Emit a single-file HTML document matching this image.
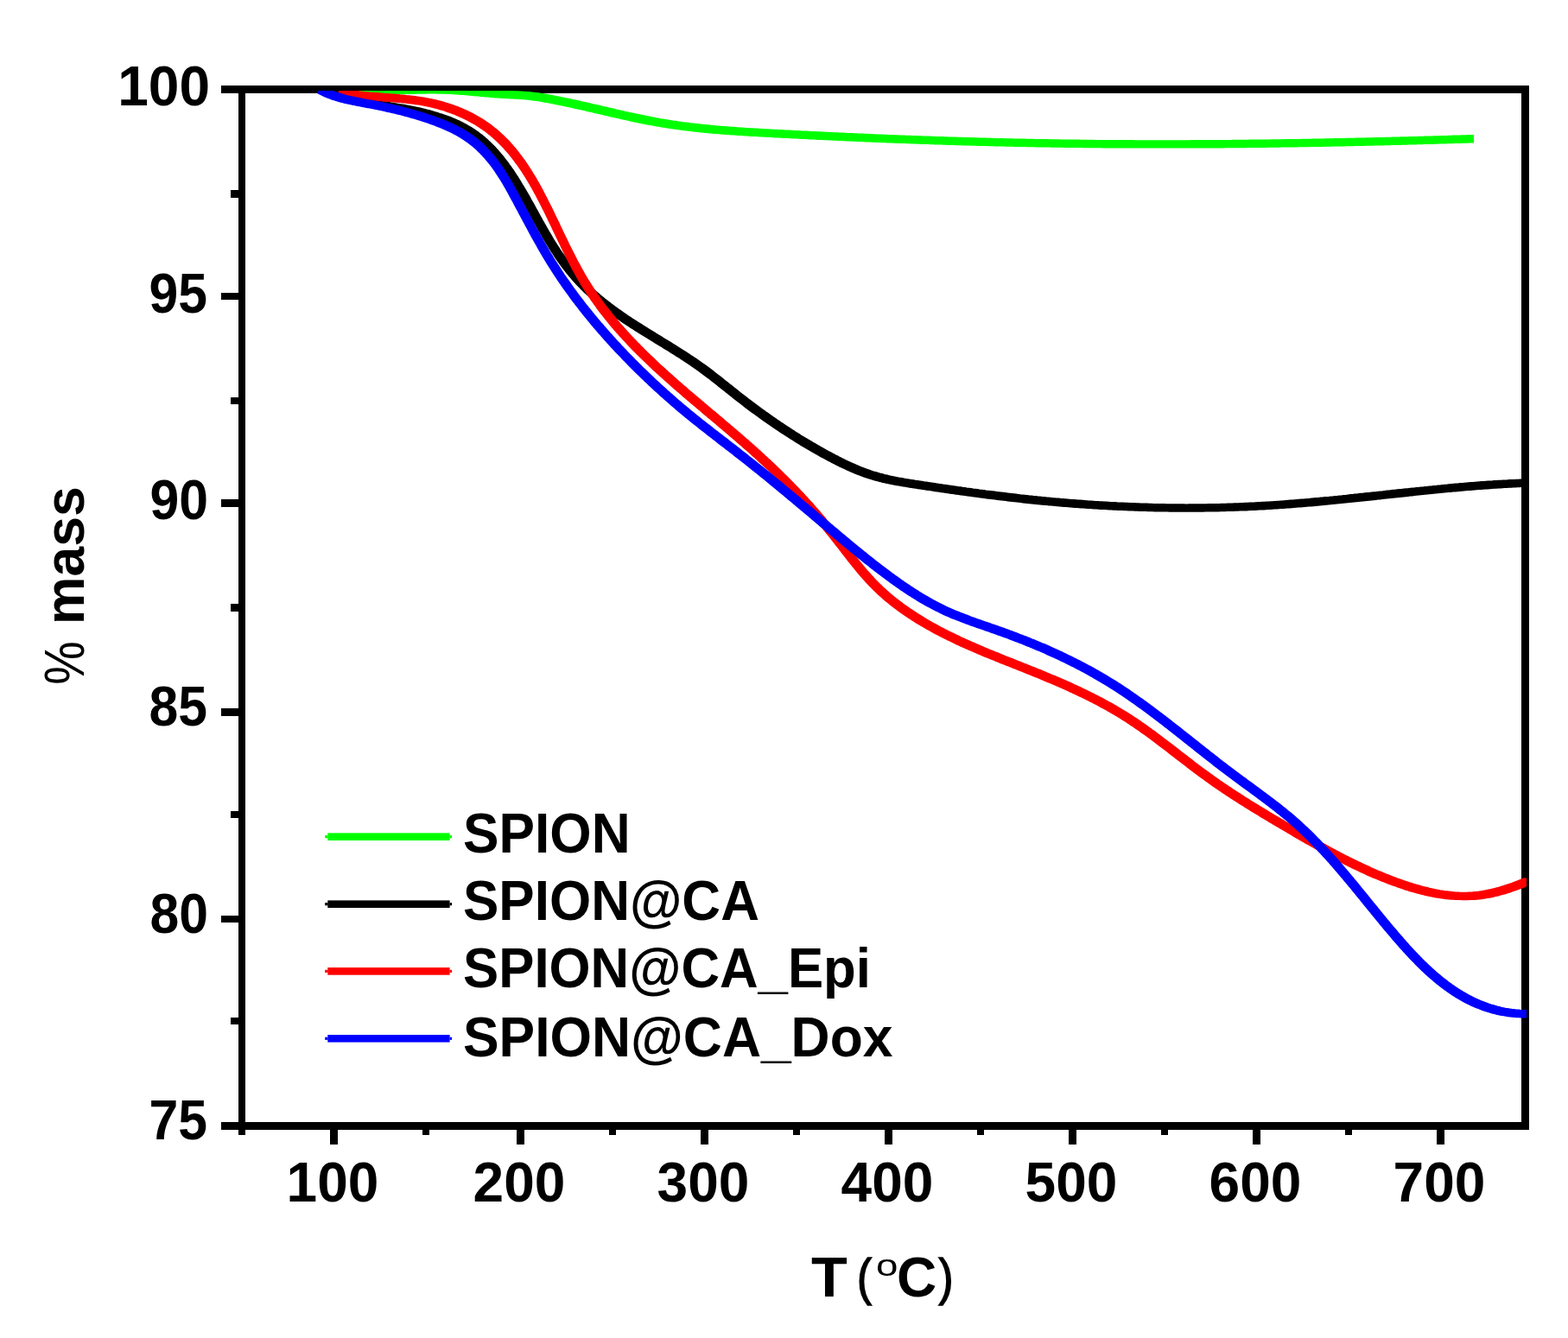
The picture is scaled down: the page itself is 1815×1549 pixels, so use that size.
<!DOCTYPE html>
<html><head><meta charset="utf-8"><title>TGA curves</title>
<style>
html,body{margin:0;padding:0;background:#fff;overflow:hidden;}
svg{display:block;}
text{font-family:"Liberation Sans",Arial,sans-serif;font-weight:bold;font-size:64px;fill:#000;}
</style></head><body>
<svg width="1815" height="1549" viewBox="0 0 1815 1549">
<rect width="1815" height="1549" fill="#fff"/>
<g fill="#000" shape-rendering="crispEdges">
<rect x="276" y="99" width="8" height="1209"/>
<rect x="1761" y="99" width="9" height="1209"/>
<rect x="276" y="99" width="1494" height="9"/>
<rect x="276" y="1299" width="1494" height="9"/>
<rect x="276" y="1300" width="8" height="13.5"/>
<rect x="382" y="1300" width="9" height="25"/>
<rect x="489" y="1300" width="8" height="13.5"/>
<rect x="598" y="1300" width="9" height="25"/>
<rect x="705" y="1300" width="8" height="13.5"/>
<rect x="811" y="1300" width="9" height="25"/>
<rect x="918" y="1300" width="8" height="13.5"/>
<rect x="1024" y="1300" width="9" height="25"/>
<rect x="1131" y="1300" width="8" height="13.5"/>
<rect x="1237" y="1300" width="9" height="25"/>
<rect x="1344" y="1300" width="8" height="13.5"/>
<rect x="1450" y="1300" width="9" height="25"/>
<rect x="1557" y="1300" width="8" height="13.5"/>
<rect x="1663" y="1300" width="9" height="25"/>
<rect x="255.5" y="99" width="28.5" height="9"/>
<rect x="267" y="220" width="17" height="9"/>
<rect x="255.5" y="339" width="28.5" height="8"/>
<rect x="267" y="460" width="17" height="8"/>
<rect x="255.5" y="578" width="28.5" height="9"/>
<rect x="267" y="699" width="17" height="9"/>
<rect x="255.5" y="820" width="28.5" height="9"/>
<rect x="267" y="939" width="17" height="8"/>
<rect x="255.5" y="1060" width="28.5" height="8"/>
<rect x="267" y="1178" width="17" height="8"/>
<rect x="255.5" y="1299" width="28.5" height="9"/>
</g>
<defs><clipPath id="pc"><rect x="284" y="105" width="1483" height="1194"/></clipPath><filter id="sq" filterUnits="userSpaceOnUse" x="270" y="90" width="1520" height="1230"><feMorphology operator="dilate" radius="1.60"/></filter></defs>
<g clip-path="url(#pc)" fill="none" stroke-width="5.4" stroke-linejoin="round" stroke-linecap="butt">
<path stroke="#000000" filter="url(#sq)" d="M375.9 104.6L378.1 105.7L380.3 106.9L382.6 107.9L384.9 108.9L387.2 109.9L389.5 110.8L391.9 111.6L394.3 112.4L396.6 113.1L399.0 113.8L401.5 114.5L403.9 115.1L406.3 115.7L408.7 116.3L411.2 116.8L413.6 117.3L416.1 117.8L418.6 118.2L421.0 118.6L423.5 119.0L425.9 119.4L428.4 119.8L430.9 120.2L433.4 120.6L435.8 120.9L438.3 121.3L440.8 121.7L443.2 122.0L445.7 122.4L448.2 122.7L450.7 123.1L453.1 123.5L455.6 123.9L458.1 124.3L460.5 124.7L463.0 125.1L465.5 125.5L467.9 126.0L470.4 126.4L472.8 126.9L475.3 127.4L477.7 127.9L480.2 128.4L482.6 128.9L485.1 129.5L487.5 130.1L489.9 130.7L492.3 131.3L494.8 131.9L497.2 132.6L499.6 133.3L502.0 134.0L504.4 134.7L506.7 135.5L509.1 136.2L511.5 137.0L513.8 137.9L516.2 138.7L518.5 139.6L520.8 140.6L523.1 141.5L525.4 142.5L527.7 143.6L530.0 144.6L532.2 145.7L534.4 146.9L536.6 148.0L538.8 149.3L541.0 150.5L543.1 151.8L545.2 153.2L547.3 154.6L549.3 156.0L551.4 157.5L553.3 159.0L555.3 160.5L557.2 162.1L559.1 163.8L561.0 165.4L562.8 167.1L564.6 168.8L566.4 170.6L568.2 172.4L569.9 174.2L571.6 176.0L573.3 177.9L574.9 179.8L576.5 181.7L578.1 183.6L579.7 185.5L581.2 187.5L582.7 189.5L584.3 191.5L585.7 193.5L587.2 195.5L588.6 197.6L590.1 199.6L591.5 201.7L592.8 203.8L594.2 205.9L595.6 208.0L596.9 210.1L598.2 212.2L599.5 214.3L600.8 216.5L602.1 218.6L603.4 220.8L604.6 222.9L605.9 225.1L607.1 227.2L608.4 229.4L609.6 231.6L610.8 233.8L612.1 236.0L613.3 238.1L614.5 240.3L615.7 242.5L616.9 244.7L618.1 246.9L619.3 249.1L620.5 251.3L621.7 253.5L622.9 255.6L624.1 257.8L625.4 260.0L626.6 262.2L627.8 264.4L629.0 266.5L630.3 268.7L631.5 270.9L632.8 273.0L634.1 275.2L635.3 277.3L636.6 279.5L637.9 281.6L639.2 283.7L640.6 285.8L641.9 288.0L643.3 290.1L644.6 292.1L646.0 294.2L647.4 296.3L648.9 298.3L650.3 300.4L651.8 302.4L653.2 304.4L654.7 306.4L656.2 308.4L657.8 310.4L659.3 312.4L660.9 314.3L662.5 316.2L664.1 318.1L665.7 320.0L667.4 321.9L669.1 323.8L670.7 325.6L672.5 327.4L674.2 329.2L676.0 331.0L677.7 332.7L679.5 334.5L681.4 336.2L683.2 337.9L685.0 339.6L686.9 341.2L688.8 342.9L690.7 344.5L692.6 346.1L694.5 347.7L696.5 349.3L698.4 350.8L700.4 352.4L702.4 353.9L704.3 355.4L706.3 356.9L708.3 358.4L710.4 359.9L712.4 361.4L714.4 362.8L716.5 364.3L718.5 365.7L720.6 367.1L722.6 368.5L724.7 369.9L726.8 371.3L728.9 372.7L731.0 374.0L733.1 375.4L735.2 376.7L737.3 378.1L739.4 379.4L741.5 380.7L743.6 382.1L745.8 383.4L747.9 384.7L750.0 386.0L752.1 387.3L754.3 388.6L756.4 390.0L758.5 391.3L760.7 392.6L762.8 393.9L764.9 395.2L767.0 396.5L769.2 397.8L771.3 399.1L773.4 400.4L775.6 401.7L777.7 403.0L779.8 404.4L781.9 405.7L784.0 407.0L786.1 408.4L788.3 409.7L790.4 411.0L792.5 412.4L794.5 413.8L796.6 415.2L798.7 416.5L800.8 417.9L802.8 419.3L804.9 420.8L807.0 422.2L809.0 423.6L811.0 425.1L813.1 426.5L815.1 428.0L817.1 429.5L819.1 431.0L821.1 432.5L823.1 434.0L825.0 435.5L827.0 437.1L829.0 438.6L831.0 440.2L832.9 441.7L834.9 443.3L836.8 444.8L838.8 446.4L840.7 447.9L842.7 449.5L844.7 451.0L846.6 452.6L848.6 454.2L850.5 455.7L852.5 457.3L854.4 458.8L856.4 460.3L858.4 461.9L860.4 463.4L862.3 464.9L864.3 466.5L866.3 468.0L868.3 469.5L870.3 471.0L872.3 472.5L874.3 474.0L876.3 475.4L878.3 476.9L880.4 478.4L882.4 479.8L884.4 481.3L886.5 482.8L888.5 484.2L890.6 485.6L892.6 487.1L894.7 488.5L896.7 489.9L898.8 491.3L900.8 492.7L902.9 494.1L905.0 495.5L907.1 496.9L909.2 498.2L911.3 499.6L913.4 501.0L915.5 502.3L917.6 503.7L919.7 505.0L921.8 506.3L923.9 507.7L926.0 509.0L928.2 510.3L930.3 511.6L932.5 512.9L934.6 514.1L936.8 515.4L938.9 516.7L941.1 517.9L943.2 519.2L945.4 520.4L947.6 521.7L949.8 522.9L951.9 524.1L954.1 525.3L956.3 526.5L958.5 527.7L960.7 528.9L962.9 530.0L965.1 531.2L967.4 532.3L969.6 533.5L971.8 534.6L974.1 535.7L976.3 536.8L978.6 537.9L980.8 538.9L983.1 540.0L985.4 541.0L987.7 542.0L990.0 543.0L992.3 544.0L994.6 544.9L996.9 545.8L999.3 546.7L1001.6 547.6L1004.0 548.4L1006.3 549.2L1008.7 550.0L1011.1 550.7L1013.5 551.4L1015.9 552.1L1018.3 552.7L1020.7 553.4L1023.1 554.0L1025.6 554.5L1028.0 555.1L1030.5 555.6L1032.9 556.1L1035.4 556.6L1037.8 557.1L1040.3 557.5L1042.7 557.9L1045.2 558.4L1047.7 558.8L1050.1 559.2L1052.6 559.6L1055.1 560.0L1057.5 560.4L1060.0 560.7L1062.5 561.1L1064.9 561.5L1067.4 561.9L1069.9 562.2L1072.4 562.6L1074.8 563.0L1077.3 563.3L1079.8 563.7L1082.2 564.1L1084.7 564.5L1087.2 564.8L1089.7 565.2L1092.1 565.5L1094.6 565.9L1097.1 566.3L1099.6 566.6L1102.0 567.0L1104.5 567.3L1107.0 567.7L1109.5 568.0L1111.9 568.4L1114.4 568.7L1116.9 569.1L1119.4 569.4L1121.8 569.7L1124.3 570.1L1126.8 570.4L1129.3 570.7L1131.7 571.1L1134.2 571.4L1136.7 571.7L1139.2 572.1L1141.7 572.4L1144.1 572.7L1146.6 573.0L1149.1 573.3L1151.6 573.6L1154.0 573.9L1156.5 574.2L1159.0 574.5L1161.5 574.8L1164.0 575.1L1166.5 575.4L1168.9 575.7L1171.4 576.0L1173.9 576.3L1176.4 576.6L1178.9 576.9L1181.4 577.1L1183.8 577.4L1186.3 577.7L1188.8 578.0L1191.3 578.2L1193.8 578.5L1196.3 578.7L1198.7 579.0L1201.2 579.2L1203.7 579.5L1206.2 579.7L1208.7 580.0L1211.2 580.2L1213.7 580.4L1216.2 580.7L1218.6 580.9L1221.1 581.1L1223.6 581.3L1226.1 581.6L1228.6 581.8L1231.1 582.0L1233.6 582.2L1236.1 582.4L1238.6 582.6L1241.1 582.8L1243.6 583.0L1246.0 583.2L1248.5 583.3L1251.0 583.5L1253.5 583.7L1256.0 583.9L1258.5 584.1L1261.0 584.2L1263.5 584.4L1266.0 584.6L1268.5 584.7L1271.0 584.9L1273.5 585.0L1276.0 585.2L1278.5 585.3L1281.0 585.4L1283.5 585.6L1285.9 585.7L1288.4 585.8L1290.9 586.0L1293.4 586.1L1295.9 586.2L1298.4 586.3L1300.9 586.4L1303.4 586.5L1305.9 586.6L1308.4 586.7L1310.9 586.8L1313.4 586.9L1315.9 587.0L1318.4 587.1L1320.9 587.2L1323.4 587.3L1325.9 587.3L1328.4 587.4L1330.9 587.5L1333.4 587.6L1335.9 587.6L1338.4 587.7L1340.9 587.7L1343.4 587.8L1345.9 587.8L1348.4 587.9L1350.9 587.9L1353.4 587.9L1355.9 588.0L1358.4 588.0L1360.9 588.0L1363.4 588.0L1365.9 588.0L1368.4 588.0L1370.9 588.1L1373.4 588.1L1375.9 588.1L1378.4 588.0L1380.9 588.0L1383.4 588.0L1385.9 588.0L1388.4 588.0L1390.9 588.0L1393.4 587.9L1395.9 587.9L1398.4 587.9L1400.9 587.8L1403.4 587.8L1405.9 587.7L1408.4 587.7L1410.9 587.6L1413.4 587.6L1415.9 587.5L1418.4 587.4L1420.9 587.4L1423.4 587.3L1425.9 587.2L1428.3 587.1L1430.8 587.0L1433.3 586.9L1435.8 586.9L1438.3 586.8L1440.8 586.7L1443.3 586.5L1445.8 586.4L1448.3 586.3L1450.8 586.2L1453.3 586.1L1455.8 585.9L1458.3 585.8L1460.8 585.7L1463.3 585.5L1465.8 585.4L1468.3 585.2L1470.8 585.1L1473.3 584.9L1475.8 584.8L1478.3 584.6L1480.8 584.4L1483.3 584.3L1485.7 584.1L1488.2 583.9L1490.7 583.7L1493.2 583.5L1495.7 583.3L1498.2 583.1L1500.7 582.9L1503.2 582.7L1505.7 582.5L1508.2 582.3L1510.7 582.1L1513.1 581.9L1515.6 581.7L1518.1 581.5L1520.6 581.2L1523.1 581.0L1525.6 580.8L1528.1 580.6L1530.6 580.3L1533.1 580.1L1535.5 579.8L1538.0 579.6L1540.5 579.4L1543.0 579.1L1545.5 578.9L1548.0 578.6L1550.5 578.4L1553.0 578.1L1555.4 577.9L1557.9 577.6L1560.4 577.4L1562.9 577.1L1565.4 576.8L1567.9 576.6L1570.4 576.3L1572.8 576.1L1575.3 575.8L1577.8 575.5L1580.3 575.3L1582.8 575.0L1585.3 574.7L1587.8 574.5L1590.2 574.2L1592.7 573.9L1595.2 573.7L1597.7 573.4L1600.2 573.1L1602.7 572.9L1605.1 572.6L1607.6 572.3L1610.1 572.1L1612.6 571.8L1615.1 571.5L1617.6 571.3L1620.1 571.0L1622.5 570.7L1625.0 570.5L1627.5 570.2L1630.0 569.9L1632.5 569.7L1635.0 569.4L1637.5 569.1L1639.9 568.9L1642.4 568.6L1644.9 568.4L1647.4 568.1L1649.9 567.9L1652.4 567.6L1654.9 567.4L1657.3 567.1L1659.8 566.9L1662.3 566.6L1664.8 566.4L1667.3 566.1L1669.8 565.9L1672.3 565.6L1674.8 565.4L1677.2 565.2L1679.7 564.9L1682.2 564.7L1684.7 564.5L1687.2 564.3L1689.7 564.1L1692.2 563.8L1694.7 563.6L1697.2 563.4L1699.6 563.2L1702.1 563.0L1704.6 562.8L1707.1 562.6L1709.6 562.4L1712.1 562.2L1714.6 562.0L1717.1 561.8L1719.6 561.7L1722.1 561.5L1724.6 561.3L1727.1 561.1L1729.6 561.0L1732.0 560.8L1734.5 560.7L1737.0 560.5L1739.5 560.4L1742.0 560.2L1744.5 560.1L1747.0 560.0L1749.5 559.8L1752.0 559.7L1754.5 559.6L1757.0 559.5L1759.5 559.4L1762.0 559.3L1764.5 559.2L1767.0 559.1"/>
<path stroke="#00ff00" filter="url(#sq)" d="M396.0 104.4L398.5 104.5L401.0 104.7L403.5 104.8L406.0 104.9L408.5 105.0L411.0 105.0L413.5 105.1L416.0 105.1L418.5 105.2L421.0 105.2L423.5 105.2L426.0 105.2L428.5 105.2L431.0 105.2L433.5 105.2L436.0 105.1L438.5 105.1L441.0 105.0L443.5 105.0L446.0 105.0L448.5 104.9L451.0 104.8L453.5 104.8L456.0 104.7L458.5 104.7L461.0 104.6L463.5 104.5L466.0 104.5L468.5 104.4L471.0 104.3L473.5 104.3L476.0 104.2L478.5 104.2L481.0 104.1L483.5 104.1L486.0 104.0L488.5 104.0L491.0 104.0L493.5 103.9L496.0 103.9L498.5 103.9L501.0 103.9L503.5 103.9L506.0 103.9L508.5 104.0L511.0 104.0L513.5 104.1L516.0 104.1L518.5 104.2L521.0 104.3L523.5 104.4L526.0 104.5L528.5 104.7L530.9 104.8L533.4 105.0L535.9 105.2L538.4 105.4L540.9 105.6L543.4 105.8L545.9 106.0L548.4 106.2L550.9 106.5L553.4 106.7L555.9 106.9L558.3 107.2L560.8 107.4L563.3 107.7L565.8 107.9L568.3 108.1L570.8 108.3L573.3 108.5L575.8 108.7L578.3 108.9L580.8 109.1L583.3 109.2L585.8 109.4L588.2 109.5L590.7 109.6L593.2 109.8L595.7 109.9L598.2 110.0L600.7 110.1L603.2 110.3L605.7 110.4L608.2 110.6L610.7 110.8L613.2 111.1L615.7 111.4L618.2 111.7L620.6 112.0L623.1 112.3L625.6 112.7L628.1 113.1L630.5 113.5L633.0 114.0L635.4 114.4L637.9 114.9L640.4 115.4L642.8 115.8L645.3 116.3L647.7 116.8L650.2 117.3L652.6 117.8L655.1 118.3L657.5 118.8L659.9 119.4L662.4 119.9L664.8 120.4L667.3 121.0L669.7 121.5L672.1 122.1L674.6 122.6L677.0 123.2L679.5 123.7L681.9 124.3L684.3 124.9L686.8 125.4L689.2 126.0L691.6 126.5L694.1 127.1L696.5 127.7L698.9 128.2L701.4 128.8L703.8 129.4L706.2 129.9L708.7 130.5L711.1 131.1L713.6 131.6L716.0 132.2L718.4 132.7L720.9 133.3L723.3 133.8L725.8 134.4L728.2 134.9L730.6 135.4L733.1 136.0L735.5 136.5L738.0 137.0L740.4 137.5L742.9 138.0L745.3 138.5L747.8 139.0L750.2 139.5L752.7 140.0L755.1 140.4L757.6 140.9L760.1 141.3L762.5 141.8L765.0 142.2L767.4 142.6L769.9 143.0L772.4 143.4L774.8 143.8L777.3 144.2L779.8 144.5L782.3 144.9L784.7 145.2L787.2 145.6L789.7 145.9L792.2 146.2L794.7 146.5L797.1 146.9L799.6 147.1L802.1 147.4L804.6 147.7L807.1 148.0L809.6 148.3L812.0 148.5L814.5 148.8L817.0 149.0L819.5 149.3L822.0 149.5L824.5 149.7L827.0 150.0L829.5 150.2L832.0 150.4L834.4 150.6L836.9 150.8L839.4 151.0L841.9 151.2L844.4 151.4L846.9 151.5L849.4 151.7L851.9 151.9L854.4 152.1L856.9 152.2L859.4 152.4L861.9 152.6L864.4 152.7L866.9 152.9L869.4 153.0L871.9 153.2L874.3 153.3L876.8 153.4L879.3 153.6L881.8 153.7L884.3 153.9L886.8 154.0L889.3 154.1L891.8 154.3L894.3 154.4L896.8 154.5L899.3 154.7L901.8 154.8L904.3 154.9L906.8 155.1L909.3 155.2L911.8 155.3L914.3 155.4L916.8 155.6L919.3 155.7L921.8 155.8L924.3 155.9L926.8 156.1L929.3 156.2L931.8 156.3L934.3 156.4L936.8 156.6L939.3 156.7L941.8 156.8L944.3 156.9L946.7 157.0L949.2 157.2L951.7 157.3L954.2 157.4L956.7 157.5L959.2 157.6L961.7 157.8L964.2 157.9L966.7 158.0L969.2 158.1L971.7 158.2L974.2 158.3L976.7 158.4L979.2 158.6L981.7 158.7L984.2 158.8L986.7 158.9L989.2 159.0L991.7 159.1L994.2 159.2L996.7 159.3L999.2 159.4L1001.7 159.5L1004.2 159.7L1006.7 159.8L1009.2 159.9L1011.7 160.0L1014.2 160.1L1016.7 160.2L1019.2 160.3L1021.7 160.4L1024.2 160.5L1026.7 160.6L1029.2 160.7L1031.7 160.8L1034.2 160.9L1036.7 161.0L1039.2 161.1L1041.7 161.2L1044.2 161.3L1046.7 161.4L1049.1 161.4L1051.6 161.5L1054.1 161.6L1056.6 161.7L1059.1 161.8L1061.6 161.9L1064.1 162.0L1066.6 162.1L1069.1 162.2L1071.6 162.3L1074.1 162.3L1076.6 162.4L1079.1 162.5L1081.6 162.6L1084.1 162.7L1086.6 162.8L1089.1 162.8L1091.6 162.9L1094.1 163.0L1096.6 163.1L1099.1 163.2L1101.6 163.2L1104.1 163.3L1106.6 163.4L1109.1 163.5L1111.6 163.5L1114.1 163.6L1116.6 163.7L1119.1 163.8L1121.6 163.8L1124.1 163.9L1126.6 164.0L1129.1 164.0L1131.6 164.1L1134.1 164.2L1136.6 164.2L1139.1 164.3L1141.6 164.4L1144.1 164.4L1146.6 164.5L1149.1 164.6L1151.6 164.6L1154.1 164.7L1156.6 164.7L1159.1 164.8L1161.6 164.9L1164.1 164.9L1166.6 165.0L1169.1 165.0L1171.6 165.1L1174.1 165.1L1176.6 165.2L1179.1 165.2L1181.6 165.3L1184.1 165.3L1186.6 165.4L1189.1 165.4L1191.6 165.5L1194.1 165.5L1196.6 165.6L1199.1 165.6L1201.6 165.7L1204.1 165.7L1206.6 165.8L1209.1 165.8L1211.6 165.8L1214.1 165.9L1216.6 165.9L1219.1 166.0L1221.6 166.0L1224.1 166.0L1226.6 166.1L1229.1 166.1L1231.6 166.1L1234.1 166.2L1236.6 166.2L1239.1 166.2L1241.6 166.3L1244.1 166.3L1246.6 166.3L1249.1 166.4L1251.6 166.4L1254.1 166.4L1256.6 166.5L1259.1 166.5L1261.6 166.5L1264.1 166.5L1266.6 166.6L1269.1 166.6L1271.6 166.6L1274.1 166.6L1276.6 166.6L1279.1 166.7L1281.6 166.7L1284.1 166.7L1286.6 166.7L1289.1 166.7L1291.6 166.7L1294.1 166.8L1296.6 166.8L1299.1 166.8L1301.6 166.8L1304.1 166.8L1306.6 166.8L1309.1 166.8L1311.6 166.9L1314.1 166.9L1316.6 166.9L1319.1 166.9L1321.6 166.9L1324.1 166.9L1326.6 166.9L1329.1 166.9L1331.6 166.9L1334.1 166.9L1336.6 166.9L1339.1 166.9L1341.6 166.9L1344.1 166.9L1346.6 166.9L1349.1 166.9L1351.6 166.9L1354.1 166.9L1356.6 166.9L1359.1 166.9L1361.6 166.9L1364.1 166.9L1366.6 166.9L1369.1 166.9L1371.6 166.9L1374.1 166.9L1376.6 166.9L1379.1 166.9L1381.6 166.8L1384.1 166.8L1386.6 166.8L1389.1 166.8L1391.6 166.8L1394.1 166.8L1396.6 166.8L1399.1 166.8L1401.6 166.8L1404.1 166.7L1406.6 166.7L1409.1 166.7L1411.6 166.7L1414.1 166.7L1416.6 166.6L1419.1 166.6L1421.6 166.6L1424.1 166.6L1426.6 166.6L1429.1 166.5L1431.6 166.5L1434.1 166.5L1436.6 166.5L1439.1 166.5L1441.6 166.4L1444.1 166.4L1446.6 166.4L1449.1 166.3L1451.6 166.3L1454.1 166.3L1456.6 166.3L1459.1 166.2L1461.6 166.2L1464.1 166.2L1466.6 166.1L1469.1 166.1L1471.6 166.1L1474.1 166.0L1476.6 166.0L1479.1 166.0L1481.6 165.9L1484.1 165.9L1486.6 165.9L1489.1 165.8L1491.6 165.8L1494.1 165.8L1496.6 165.7L1499.1 165.7L1501.6 165.6L1504.1 165.6L1506.6 165.6L1509.1 165.5L1511.6 165.5L1514.1 165.4L1516.6 165.4L1519.1 165.4L1521.6 165.3L1524.1 165.3L1526.5 165.2L1529.0 165.2L1531.5 165.1L1534.0 165.1L1536.5 165.0L1539.0 165.0L1541.5 164.9L1544.0 164.9L1546.5 164.8L1549.0 164.8L1551.5 164.7L1554.0 164.7L1556.5 164.6L1559.0 164.6L1561.5 164.5L1564.0 164.5L1566.5 164.4L1569.0 164.4L1571.5 164.3L1574.0 164.3L1576.5 164.2L1579.0 164.1L1581.5 164.1L1584.0 164.0L1586.5 164.0L1589.0 163.9L1591.5 163.9L1594.0 163.8L1596.5 163.7L1599.0 163.7L1601.5 163.6L1604.0 163.6L1606.5 163.5L1609.0 163.4L1611.5 163.4L1614.0 163.3L1616.5 163.2L1619.0 163.2L1621.5 163.1L1624.0 163.0L1626.5 163.0L1629.0 162.9L1631.5 162.9L1634.0 162.8L1636.5 162.7L1639.0 162.6L1641.5 162.6L1644.0 162.5L1646.5 162.4L1649.0 162.4L1651.5 162.3L1654.0 162.2L1656.5 162.2L1659.0 162.1L1661.5 162.0L1664.0 161.9L1666.5 161.9L1669.0 161.8L1671.5 161.7L1674.0 161.6L1676.5 161.6L1679.0 161.5L1681.5 161.4L1684.0 161.3L1686.5 161.3L1689.0 161.2L1691.5 161.1L1694.0 161.0L1696.5 161.0L1699.0 160.9L1701.5 160.8L1704.0 160.7"/>
<path stroke="#ff0000" filter="url(#sq)" d="M394.0 106.6L396.4 107.1L398.9 107.6L401.3 108.0L403.8 108.4L406.3 108.8L408.7 109.2L411.2 109.5L413.7 109.9L416.2 110.2L418.6 110.4L421.1 110.7L423.6 110.9L426.1 111.2L428.6 111.4L431.1 111.6L433.6 111.8L436.1 112.0L438.6 112.2L441.0 112.4L443.5 112.6L446.0 112.8L448.5 113.0L451.0 113.2L453.5 113.3L456.0 113.5L458.5 113.7L461.0 114.0L463.5 114.2L465.9 114.4L468.4 114.7L470.9 114.9L473.4 115.2L475.9 115.5L478.4 115.8L480.8 116.1L483.3 116.5L485.8 116.8L488.3 117.2L490.7 117.7L493.2 118.1L495.6 118.6L498.1 119.1L500.5 119.6L502.9 120.2L505.4 120.8L507.8 121.4L510.2 122.1L512.6 122.8L515.0 123.5L517.4 124.3L519.7 125.1L522.1 125.9L524.4 126.7L526.8 127.6L529.1 128.6L531.4 129.5L533.7 130.5L536.0 131.5L538.3 132.5L540.5 133.6L542.8 134.7L545.0 135.9L547.2 137.1L549.4 138.3L551.5 139.5L553.7 140.8L555.8 142.1L557.9 143.5L560.0 144.9L562.0 146.3L564.1 147.7L566.1 149.2L568.0 150.8L570.0 152.3L571.9 153.9L573.8 155.5L575.7 157.2L577.5 158.9L579.4 160.6L581.1 162.3L582.9 164.1L584.7 165.9L586.4 167.7L588.0 169.6L589.7 171.4L591.3 173.3L593.0 175.2L594.5 177.2L596.1 179.1L597.6 181.1L599.2 183.1L600.6 185.1L602.1 187.1L603.6 189.1L605.0 191.2L606.4 193.2L607.8 195.3L609.1 197.4L610.5 199.5L611.8 201.6L613.1 203.8L614.4 205.9L615.7 208.0L617.0 210.2L618.2 212.4L619.5 214.5L620.7 216.7L621.9 218.9L623.1 221.1L624.3 223.3L625.4 225.5L626.6 227.7L627.7 229.9L628.9 232.2L630.0 234.4L631.1 236.6L632.3 238.9L633.4 241.1L634.5 243.3L635.6 245.6L636.7 247.8L637.8 250.1L638.8 252.3L639.9 254.6L641.0 256.8L642.1 259.1L643.2 261.3L644.2 263.6L645.3 265.9L646.4 268.1L647.4 270.4L648.5 272.6L649.6 274.9L650.7 277.1L651.8 279.4L652.9 281.6L653.9 283.9L655.0 286.1L656.1 288.4L657.2 290.6L658.4 292.8L659.5 295.1L660.6 297.3L661.7 299.5L662.9 301.8L664.0 304.0L665.2 306.2L666.4 308.4L667.6 310.6L668.8 312.8L670.0 315.0L671.2 317.1L672.4 319.3L673.7 321.5L674.9 323.6L676.2 325.8L677.5 327.9L678.8 330.0L680.2 332.2L681.5 334.3L682.9 336.4L684.2 338.5L685.6 340.5L687.0 342.6L688.4 344.7L689.9 346.7L691.3 348.7L692.8 350.8L694.2 352.8L695.7 354.8L697.2 356.8L698.7 358.8L700.3 360.8L701.8 362.7L703.4 364.7L704.9 366.7L706.5 368.6L708.1 370.5L709.7 372.5L711.3 374.4L712.9 376.3L714.5 378.2L716.2 380.1L717.8 381.9L719.5 383.8L721.1 385.7L722.8 387.5L724.5 389.4L726.2 391.2L727.9 393.0L729.6 394.8L731.3 396.7L733.1 398.5L734.8 400.3L736.5 402.0L738.3 403.8L740.1 405.6L741.8 407.4L743.6 409.1L745.4 410.9L747.2 412.6L749.0 414.4L750.8 416.1L752.6 417.8L754.4 419.5L756.2 421.3L758.0 423.0L759.8 424.7L761.7 426.4L763.5 428.1L765.4 429.7L767.2 431.4L769.1 433.1L770.9 434.8L772.8 436.5L774.6 438.1L776.5 439.8L778.4 441.4L780.2 443.1L782.1 444.7L784.0 446.4L785.9 448.0L787.8 449.7L789.7 451.3L791.6 452.9L793.4 454.6L795.3 456.2L797.2 457.8L799.1 459.4L801.0 461.0L802.9 462.7L804.9 464.3L806.8 465.9L808.7 467.5L810.6 469.1L812.5 470.7L814.4 472.3L816.3 474.0L818.2 475.6L820.1 477.2L822.0 478.8L824.0 480.4L825.9 482.0L827.8 483.6L829.7 485.2L831.6 486.8L833.5 488.4L835.4 490.1L837.3 491.7L839.2 493.3L841.1 494.9L843.0 496.5L844.9 498.1L846.8 499.8L848.7 501.4L850.6 503.0L852.5 504.6L854.4 506.3L856.3 507.9L858.2 509.6L860.1 511.2L862.0 512.8L863.8 514.5L865.7 516.1L867.6 517.8L869.5 519.4L871.3 521.1L873.2 522.8L875.0 524.4L876.9 526.1L878.7 527.8L880.6 529.5L882.4 531.2L884.3 532.9L886.1 534.6L887.9 536.3L889.7 538.0L891.6 539.7L893.4 541.4L895.2 543.2L897.0 544.9L898.8 546.6L900.6 548.4L902.3 550.1L904.1 551.9L905.9 553.6L907.7 555.4L909.4 557.2L911.2 558.9L912.9 560.7L914.7 562.5L916.4 564.3L918.2 566.1L919.9 567.9L921.6 569.7L923.3 571.5L925.1 573.4L926.8 575.2L928.5 577.0L930.2 578.8L931.8 580.7L933.5 582.5L935.2 584.4L936.9 586.2L938.5 588.1L940.2 590.0L941.8 591.9L943.5 593.7L945.1 595.6L946.7 597.5L948.4 599.4L950.0 601.3L951.6 603.2L953.2 605.2L954.8 607.1L956.4 609.0L958.0 610.9L959.5 612.9L961.1 614.8L962.7 616.8L964.2 618.7L965.8 620.7L967.3 622.7L968.9 624.6L970.4 626.6L971.9 628.6L973.5 630.5L975.0 632.5L976.5 634.5L978.0 636.5L979.6 638.4L981.1 640.4L982.7 642.4L984.2 644.4L985.7 646.3L987.3 648.3L988.9 650.2L990.4 652.2L992.0 654.1L993.6 656.0L995.2 658.0L996.8 659.9L998.4 661.8L1000.0 663.7L1001.7 665.6L1003.3 667.4L1005.0 669.3L1006.7 671.1L1008.4 673.0L1010.1 674.8L1011.9 676.6L1013.6 678.3L1015.4 680.1L1017.2 681.8L1019.0 683.6L1020.8 685.3L1022.7 686.9L1024.5 688.6L1026.4 690.2L1028.3 691.9L1030.3 693.5L1032.2 695.0L1034.1 696.6L1036.1 698.1L1038.1 699.7L1040.1 701.2L1042.1 702.7L1044.1 704.1L1046.1 705.6L1048.2 707.0L1050.2 708.4L1052.3 709.8L1054.4 711.2L1056.5 712.6L1058.6 714.0L1060.7 715.3L1062.8 716.6L1064.9 717.9L1067.1 719.2L1069.2 720.5L1071.4 721.8L1073.5 723.0L1075.7 724.3L1077.9 725.5L1080.1 726.7L1082.2 727.9L1084.4 729.1L1086.7 730.3L1088.9 731.4L1091.1 732.6L1093.3 733.7L1095.5 734.8L1097.8 735.9L1100.0 737.1L1102.3 738.1L1104.5 739.2L1106.8 740.3L1109.0 741.4L1111.3 742.4L1113.6 743.5L1115.8 744.5L1118.1 745.5L1120.4 746.5L1122.7 747.6L1125.0 748.6L1127.3 749.6L1129.6 750.5L1131.9 751.5L1134.2 752.5L1136.5 753.5L1138.8 754.4L1141.1 755.4L1143.4 756.4L1145.7 757.3L1148.0 758.3L1150.3 759.2L1152.6 760.1L1154.9 761.1L1157.3 762.0L1159.6 762.9L1161.9 763.9L1164.2 764.8L1166.5 765.7L1168.9 766.6L1171.2 767.6L1173.5 768.5L1175.8 769.4L1178.2 770.3L1180.5 771.3L1182.8 772.2L1185.1 773.1L1187.4 774.0L1189.8 775.0L1192.1 775.9L1194.4 776.8L1196.7 777.8L1199.0 778.7L1201.4 779.6L1203.7 780.6L1206.0 781.5L1208.3 782.5L1210.6 783.4L1212.9 784.4L1215.2 785.4L1217.5 786.3L1219.8 787.3L1222.1 788.3L1224.4 789.3L1226.7 790.3L1229.0 791.3L1231.3 792.3L1233.6 793.3L1235.8 794.3L1238.1 795.3L1240.4 796.4L1242.7 797.4L1244.9 798.5L1247.2 799.5L1249.4 800.6L1251.7 801.7L1254.0 802.7L1256.2 803.8L1258.4 804.9L1260.7 806.1L1262.9 807.2L1265.1 808.3L1267.4 809.4L1269.6 810.6L1271.8 811.7L1274.0 812.9L1276.2 814.1L1278.4 815.3L1280.6 816.5L1282.8 817.7L1285.0 818.9L1287.1 820.2L1289.3 821.4L1291.5 822.7L1293.6 823.9L1295.8 825.2L1297.9 826.5L1300.0 827.8L1302.1 829.1L1304.3 830.5L1306.4 831.8L1308.5 833.2L1310.5 834.6L1312.6 835.9L1314.7 837.3L1316.8 838.8L1318.8 840.2L1320.9 841.6L1322.9 843.0L1324.9 844.5L1327.0 845.9L1329.0 847.4L1331.0 848.9L1333.0 850.3L1335.1 851.8L1337.1 853.3L1339.1 854.8L1341.1 856.3L1343.0 857.8L1345.0 859.3L1347.0 860.9L1349.0 862.4L1351.0 863.9L1353.0 865.4L1355.0 866.9L1356.9 868.5L1358.9 870.0L1360.9 871.5L1362.9 873.1L1364.8 874.6L1366.8 876.1L1368.8 877.6L1370.8 879.2L1372.7 880.7L1374.7 882.2L1376.7 883.7L1378.7 885.3L1380.7 886.8L1382.7 888.3L1384.7 889.8L1386.7 891.3L1388.7 892.8L1390.7 894.3L1392.7 895.8L1394.7 897.2L1396.7 898.7L1398.7 900.2L1400.8 901.6L1402.8 903.1L1404.8 904.5L1406.9 906.0L1408.9 907.4L1411.0 908.8L1413.1 910.2L1415.1 911.6L1417.2 913.0L1419.3 914.4L1421.4 915.8L1423.4 917.2L1425.5 918.5L1427.6 919.9L1429.7 921.3L1431.8 922.6L1433.9 924.0L1436.0 925.3L1438.1 926.7L1440.2 928.0L1442.4 929.3L1444.5 930.7L1446.6 932.0L1448.7 933.3L1450.8 934.6L1453.0 935.9L1455.1 937.2L1457.2 938.5L1459.4 939.8L1461.5 941.1L1463.6 942.4L1465.8 943.7L1467.9 945.0L1470.1 946.3L1472.2 947.6L1474.4 948.8L1476.5 950.1L1478.7 951.4L1480.8 952.7L1483.0 953.9L1485.1 955.2L1487.3 956.5L1489.4 957.7L1491.6 959.0L1493.7 960.3L1495.9 961.5L1498.0 962.8L1500.2 964.1L1502.3 965.3L1504.5 966.6L1506.7 967.8L1508.8 969.1L1511.0 970.3L1513.2 971.6L1515.3 972.8L1517.5 974.0L1519.7 975.3L1521.9 976.5L1524.0 977.7L1526.2 979.0L1528.4 980.2L1530.6 981.4L1532.8 982.6L1535.0 983.8L1537.2 985.0L1539.4 986.2L1541.6 987.3L1543.8 988.5L1546.0 989.7L1548.2 990.8L1550.4 992.0L1552.6 993.2L1554.8 994.3L1557.1 995.4L1559.3 996.6L1561.5 997.7L1563.8 998.8L1566.0 999.9L1568.3 1001.0L1570.5 1002.1L1572.8 1003.1L1575.0 1004.2L1577.3 1005.3L1579.6 1006.3L1581.8 1007.3L1584.1 1008.4L1586.4 1009.4L1588.7 1010.4L1591.0 1011.4L1593.3 1012.4L1595.6 1013.3L1597.9 1014.3L1600.2 1015.2L1602.5 1016.2L1604.8 1017.1L1607.2 1018.0L1609.5 1018.9L1611.8 1019.8L1614.2 1020.7L1616.5 1021.5L1618.9 1022.3L1621.2 1023.2L1623.6 1024.0L1626.0 1024.8L1628.3 1025.6L1630.7 1026.3L1633.1 1027.1L1635.5 1027.8L1637.9 1028.5L1640.3 1029.2L1642.7 1029.9L1645.1 1030.5L1647.5 1031.1L1650.0 1031.7L1652.4 1032.3L1654.8 1032.8L1657.3 1033.4L1659.7 1033.9L1662.2 1034.3L1664.6 1034.8L1667.1 1035.2L1669.6 1035.6L1672.1 1035.9L1674.5 1036.2L1677.0 1036.5L1679.5 1036.8L1682.0 1037.0L1684.5 1037.1L1687.0 1037.3L1689.5 1037.4L1692.0 1037.4L1694.5 1037.5L1697.0 1037.5L1699.5 1037.4L1702.0 1037.3L1704.5 1037.2L1706.9 1037.0L1709.4 1036.7L1711.9 1036.5L1714.4 1036.2L1716.9 1035.8L1719.3 1035.4L1721.8 1035.0L1724.2 1034.5L1726.7 1034.0L1729.1 1033.4L1731.6 1032.8L1734.0 1032.2L1736.4 1031.5L1738.8 1030.9L1741.2 1030.1L1743.6 1029.4L1746.0 1028.6L1748.3 1027.8L1750.7 1027.0L1753.0 1026.2L1755.4 1025.3L1757.7 1024.4L1760.0 1023.5L1762.4 1022.6L1764.7 1021.6L1767.0 1020.7"/>
<path stroke="#0000ff" filter="url(#sq)" d="M370.6 103.9L372.9 105.0L375.1 106.1L377.4 107.2L379.6 108.2L382.0 109.1L384.3 110.0L386.6 110.9L389.0 111.7L391.4 112.4L393.8 113.1L396.2 113.8L398.6 114.5L401.0 115.1L403.4 115.6L405.9 116.2L408.3 116.7L410.8 117.2L413.2 117.7L415.7 118.2L418.1 118.7L420.6 119.1L423.0 119.6L425.5 120.0L427.9 120.5L430.4 120.9L432.8 121.4L435.3 121.9L437.7 122.4L440.2 122.9L442.6 123.4L445.1 123.9L447.5 124.4L450.0 125.0L452.4 125.5L454.8 126.1L457.2 126.6L459.7 127.2L462.1 127.8L464.5 128.4L466.9 129.0L469.4 129.7L471.8 130.3L474.2 131.0L476.6 131.6L479.0 132.3L481.4 133.0L483.8 133.7L486.2 134.5L488.6 135.2L490.9 135.9L493.3 136.7L495.7 137.5L498.0 138.3L500.4 139.1L502.8 140.0L505.1 140.8L507.4 141.7L509.8 142.6L512.1 143.5L514.4 144.5L516.7 145.5L519.0 146.5L521.2 147.5L523.5 148.6L525.7 149.7L527.9 150.8L530.1 152.0L532.3 153.2L534.5 154.5L536.6 155.8L538.7 157.1L540.8 158.5L542.9 159.9L544.9 161.3L546.9 162.8L548.9 164.4L550.8 165.9L552.7 167.6L554.6 169.2L556.4 171.0L558.2 172.7L559.9 174.5L561.7 176.3L563.3 178.1L565.0 180.0L566.6 181.9L568.2 183.8L569.8 185.8L571.3 187.7L572.8 189.7L574.3 191.8L575.7 193.8L577.1 195.8L578.5 197.9L579.9 200.0L581.2 202.1L582.6 204.2L583.9 206.3L585.2 208.5L586.5 210.6L587.7 212.8L589.0 214.9L590.2 217.1L591.4 219.3L592.6 221.5L593.8 223.7L595.0 225.9L596.2 228.1L597.4 230.3L598.6 232.5L599.7 234.7L600.9 236.9L602.1 239.1L603.3 241.3L604.4 243.5L605.6 245.7L606.8 247.9L608.0 250.1L609.1 252.3L610.3 254.5L611.5 256.7L612.7 258.9L613.9 261.1L615.0 263.3L616.2 265.5L617.4 267.7L618.6 269.9L619.8 272.1L621.0 274.2L622.2 276.4L623.5 278.6L624.7 280.8L625.9 283.0L627.1 285.1L628.4 287.3L629.6 289.4L630.9 291.6L632.2 293.8L633.4 295.9L634.7 298.0L636.0 300.2L637.3 302.3L638.6 304.4L640.0 306.5L641.3 308.6L642.7 310.8L644.0 312.8L645.4 314.9L646.7 317.0L648.1 319.1L649.5 321.2L650.9 323.2L652.3 325.3L653.8 327.4L655.2 329.4L656.6 331.4L658.1 333.5L659.5 335.5L661.0 337.5L662.5 339.5L663.9 341.6L665.4 343.6L666.9 345.6L668.4 347.5L669.9 349.5L671.5 351.5L673.0 353.5L674.5 355.5L676.1 357.4L677.6 359.4L679.2 361.3L680.8 363.3L682.3 365.2L683.9 367.1L685.5 369.1L687.1 371.0L688.7 372.9L690.3 374.8L691.9 376.7L693.6 378.6L695.2 380.5L696.8 382.4L698.5 384.3L700.1 386.1L701.8 388.0L703.4 389.9L705.1 391.7L706.8 393.6L708.4 395.4L710.1 397.3L711.8 399.1L713.5 400.9L715.2 402.8L716.9 404.6L718.6 406.4L720.4 408.2L722.1 410.0L723.8 411.8L725.5 413.6L727.3 415.4L729.0 417.2L730.8 419.0L732.5 420.8L734.3 422.5L736.1 424.3L737.8 426.0L739.6 427.8L741.4 429.6L743.2 431.3L745.0 433.0L746.8 434.8L748.6 436.5L750.4 438.2L752.2 439.9L754.0 441.7L755.8 443.4L757.6 445.1L759.5 446.8L761.3 448.5L763.2 450.1L765.0 451.8L766.9 453.5L768.7 455.2L770.6 456.8L772.4 458.5L774.3 460.1L776.2 461.8L778.1 463.4L779.9 465.1L781.8 466.7L783.7 468.3L785.6 469.9L787.5 471.6L789.4 473.2L791.4 474.8L793.3 476.4L795.2 478.0L797.1 479.6L799.1 481.1L801.0 482.7L802.9 484.3L804.9 485.9L806.8 487.4L808.8 489.0L810.7 490.5L812.7 492.1L814.6 493.6L816.6 495.2L818.6 496.7L820.5 498.2L822.5 499.8L824.5 501.3L826.5 502.8L828.4 504.4L830.4 505.9L832.4 507.4L834.3 509.0L836.3 510.5L838.3 512.0L840.3 513.5L842.3 515.1L844.2 516.6L846.2 518.1L848.2 519.7L850.1 521.2L852.1 522.7L854.1 524.3L856.0 525.8L858.0 527.3L860.0 528.9L861.9 530.4L863.9 532.0L865.8 533.5L867.8 535.1L869.8 536.6L871.7 538.2L873.7 539.8L875.6 541.3L877.5 542.9L879.5 544.4L881.4 546.0L883.4 547.6L885.3 549.2L887.3 550.7L889.2 552.3L891.1 553.9L893.1 555.5L895.0 557.1L896.9 558.6L898.8 560.2L900.8 561.8L902.7 563.4L904.6 565.0L906.5 566.6L908.5 568.2L910.4 569.8L912.3 571.4L914.2 573.0L916.1 574.6L918.1 576.2L920.0 577.8L921.9 579.4L923.8 581.0L925.7 582.6L927.6 584.2L929.5 585.8L931.5 587.4L933.4 589.0L935.3 590.6L937.2 592.2L939.1 593.8L941.0 595.4L942.9 597.1L944.8 598.7L946.7 600.3L948.6 601.9L950.5 603.5L952.4 605.1L954.3 606.7L956.2 608.3L958.1 610.0L960.1 611.6L962.0 613.2L963.9 614.8L965.8 616.4L967.7 618.0L969.6 619.6L971.5 621.2L973.4 622.8L975.3 624.4L977.3 626.0L979.2 627.6L981.1 629.2L983.0 630.8L984.9 632.4L986.9 634.0L988.8 635.6L990.7 637.2L992.7 638.7L994.6 640.3L996.5 641.9L998.5 643.4L1000.4 645.0L1002.4 646.6L1004.3 648.1L1006.3 649.7L1008.3 651.2L1010.2 652.8L1012.2 654.3L1014.2 655.8L1016.1 657.4L1018.1 658.9L1020.1 660.4L1022.1 661.9L1024.1 663.4L1026.1 664.9L1028.1 666.4L1030.1 667.9L1032.1 669.3L1034.1 670.8L1036.2 672.3L1038.2 673.7L1040.2 675.2L1042.3 676.6L1044.3 678.0L1046.4 679.4L1048.5 680.8L1050.5 682.2L1052.6 683.6L1054.7 684.9L1056.8 686.3L1058.9 687.6L1061.0 689.0L1063.2 690.3L1065.3 691.6L1067.4 692.8L1069.6 694.1L1071.8 695.4L1073.9 696.6L1076.1 697.8L1078.3 699.0L1080.5 700.2L1082.7 701.3L1084.9 702.5L1087.2 703.6L1089.4 704.7L1091.6 705.8L1093.9 706.9L1096.2 707.9L1098.5 708.9L1100.7 709.9L1103.0 710.9L1105.3 711.9L1107.7 712.8L1110.0 713.7L1112.3 714.6L1114.6 715.5L1117.0 716.4L1119.3 717.3L1121.6 718.2L1124.0 719.0L1126.3 719.9L1128.7 720.7L1131.0 721.5L1133.4 722.4L1135.8 723.2L1138.1 724.0L1140.5 724.8L1142.8 725.6L1145.2 726.5L1147.6 727.3L1149.9 728.1L1152.3 728.9L1154.6 729.7L1157.0 730.6L1159.3 731.4L1161.7 732.3L1164.0 733.1L1166.4 734.0L1168.7 734.8L1171.0 735.7L1173.4 736.6L1175.7 737.5L1178.0 738.4L1180.4 739.3L1182.7 740.2L1185.0 741.1L1187.3 742.0L1189.7 742.9L1192.0 743.9L1194.3 744.8L1196.6 745.8L1198.9 746.7L1201.2 747.7L1203.5 748.7L1205.8 749.6L1208.1 750.6L1210.4 751.6L1212.7 752.6L1215.0 753.7L1217.2 754.7L1219.5 755.7L1221.8 756.7L1224.0 757.8L1226.3 758.8L1228.6 759.9L1230.8 761.0L1233.1 762.1L1235.3 763.1L1237.6 764.2L1239.8 765.3L1242.0 766.5L1244.3 767.6L1246.5 768.7L1248.7 769.9L1250.9 771.0L1253.1 772.2L1255.3 773.3L1257.5 774.5L1259.7 775.7L1261.9 776.9L1264.1 778.1L1266.3 779.3L1268.5 780.6L1270.6 781.8L1272.8 783.1L1274.9 784.3L1277.1 785.6L1279.2 786.9L1281.4 788.2L1283.5 789.5L1285.6 790.8L1287.7 792.1L1289.9 793.4L1292.0 794.8L1294.1 796.1L1296.2 797.5L1298.2 798.9L1300.3 800.2L1302.4 801.6L1304.5 803.0L1306.5 804.4L1308.6 805.8L1310.6 807.3L1312.7 808.7L1314.7 810.1L1316.8 811.6L1318.8 813.0L1320.8 814.5L1322.9 815.9L1324.9 817.4L1326.9 818.9L1328.9 820.4L1330.9 821.8L1332.9 823.3L1334.9 824.8L1336.9 826.3L1338.9 827.8L1340.9 829.3L1342.9 830.9L1344.9 832.4L1346.8 833.9L1348.8 835.4L1350.8 837.0L1352.8 838.5L1354.7 840.0L1356.7 841.6L1358.7 843.1L1360.6 844.6L1362.6 846.2L1364.5 847.7L1366.5 849.3L1368.5 850.8L1370.4 852.4L1372.4 853.9L1374.3 855.5L1376.3 857.0L1378.3 858.6L1380.2 860.1L1382.2 861.7L1384.1 863.2L1386.1 864.8L1388.0 866.3L1390.0 867.9L1391.9 869.4L1393.9 871.0L1395.9 872.5L1397.8 874.1L1399.8 875.6L1401.8 877.2L1403.7 878.7L1405.7 880.2L1407.7 881.8L1409.6 883.3L1411.6 884.8L1413.6 886.3L1415.6 887.9L1417.5 889.4L1419.5 890.9L1421.5 892.4L1423.5 893.9L1425.5 895.4L1427.5 896.9L1429.5 898.4L1431.5 899.9L1433.5 901.4L1435.5 902.9L1437.5 904.3L1439.6 905.8L1441.6 907.3L1443.6 908.8L1445.6 910.2L1447.6 911.7L1449.6 913.2L1451.6 914.7L1453.7 916.1L1455.7 917.6L1457.7 919.1L1459.7 920.6L1461.7 922.1L1463.7 923.6L1465.7 925.1L1467.7 926.6L1469.7 928.1L1471.7 929.6L1473.6 931.1L1475.6 932.6L1477.6 934.2L1479.5 935.7L1481.5 937.3L1483.5 938.8L1485.4 940.4L1487.3 942.0L1489.3 943.6L1491.2 945.1L1493.1 946.8L1495.0 948.4L1496.9 950.0L1498.8 951.7L1500.6 953.3L1502.5 955.0L1504.3 956.7L1506.2 958.4L1508.0 960.1L1509.8 961.8L1511.6 963.5L1513.4 965.2L1515.2 967.0L1517.0 968.7L1518.7 970.5L1520.5 972.3L1522.2 974.1L1524.0 975.8L1525.7 977.6L1527.4 979.5L1529.1 981.3L1530.8 983.1L1532.5 984.9L1534.2 986.8L1535.9 988.6L1537.6 990.5L1539.3 992.3L1540.9 994.2L1542.6 996.0L1544.2 997.9L1545.9 999.8L1547.5 1001.7L1549.1 1003.6L1550.8 1005.5L1552.4 1007.4L1554.0 1009.3L1555.6 1011.2L1557.2 1013.1L1558.8 1015.0L1560.4 1016.9L1562.0 1018.8L1563.6 1020.8L1565.2 1022.7L1566.8 1024.6L1568.4 1026.5L1570.0 1028.5L1571.6 1030.4L1573.1 1032.3L1574.7 1034.3L1576.3 1036.2L1577.9 1038.1L1579.4 1040.1L1581.0 1042.0L1582.6 1044.0L1584.2 1045.9L1585.7 1047.8L1587.3 1049.8L1588.9 1051.7L1590.5 1053.6L1592.0 1055.6L1593.6 1057.5L1595.2 1059.4L1596.8 1061.4L1598.4 1063.3L1599.9 1065.2L1601.5 1067.2L1603.1 1069.1L1604.7 1071.0L1606.3 1072.9L1607.9 1074.8L1609.5 1076.7L1611.1 1078.6L1612.8 1080.6L1614.4 1082.5L1616.0 1084.4L1617.6 1086.2L1619.3 1088.1L1620.9 1090.0L1622.6 1091.9L1624.2 1093.8L1625.9 1095.6L1627.5 1097.5L1629.2 1099.3L1630.9 1101.2L1632.6 1103.0L1634.3 1104.8L1636.0 1106.6L1637.7 1108.4L1639.5 1110.2L1641.2 1112.0L1643.0 1113.8L1644.8 1115.6L1646.5 1117.3L1648.3 1119.0L1650.1 1120.8L1652.0 1122.5L1653.8 1124.2L1655.6 1125.9L1657.5 1127.5L1659.4 1129.2L1661.3 1130.8L1663.2 1132.4L1665.1 1134.0L1667.0 1135.6L1669.0 1137.1L1671.0 1138.7L1672.9 1140.2L1674.9 1141.7L1677.0 1143.1L1679.0 1144.6L1681.1 1146.0L1683.1 1147.4L1685.2 1148.7L1687.3 1150.1L1689.5 1151.4L1691.6 1152.7L1693.8 1153.9L1695.9 1155.1L1698.1 1156.3L1700.4 1157.5L1702.6 1158.6L1704.8 1159.7L1707.1 1160.7L1709.4 1161.7L1711.7 1162.7L1714.0 1163.6L1716.3 1164.5L1718.7 1165.4L1721.0 1166.2L1723.4 1167.0L1725.8 1167.7L1728.2 1168.4L1730.6 1169.1L1733.0 1169.7L1735.4 1170.3L1737.9 1170.8L1740.3 1171.3L1742.8 1171.7L1745.3 1172.1L1747.7 1172.5L1750.2 1172.8L1752.7 1173.1L1755.2 1173.3L1757.7 1173.5L1760.2 1173.6L1762.6 1173.7L1765.1 1173.8L1767.6 1173.8"/>
</g>
<g>
<text x="243" y="121.5" text-anchor="end">100</text>
<text x="240" y="361.5" text-anchor="end" textLength="67.5" lengthAdjust="spacingAndGlyphs">95</text>
<text x="241" y="600.5" text-anchor="end" textLength="67.5" lengthAdjust="spacingAndGlyphs">90</text>
<text x="240" y="840" text-anchor="end" textLength="67.5" lengthAdjust="spacingAndGlyphs">85</text>
<text x="241" y="1079.5" text-anchor="end" textLength="67.5" lengthAdjust="spacingAndGlyphs">80</text>
<text x="240" y="1318.7" text-anchor="end" textLength="67.5" lengthAdjust="spacingAndGlyphs">75</text>
<text x="385.0" y="1391" text-anchor="middle">100</text>
<text x="601.0" y="1391" text-anchor="middle">200</text>
<text x="814.0" y="1391" text-anchor="middle">300</text>
<text x="1027.0" y="1391" text-anchor="middle">400</text>
<text x="1240.0" y="1391" text-anchor="middle">500</text>
<text x="1453.0" y="1391" text-anchor="middle">600</text>
<text x="1666.0" y="1391" text-anchor="middle">700</text>
</g>
<g>
<rect x="379.3" y="964.40" width="141.3" height="8.6" fill="#00ff00"/><rect x="376.2" y="967.10" width="3.2" height="3.2" fill="#00ff00"/><rect x="520.5" y="967.10" width="2.5" height="3.2" fill="#00ff00"/>
<rect x="379.3" y="1042.40" width="141.3" height="8.6" fill="#000"/><rect x="376.2" y="1045.10" width="3.2" height="3.2" fill="#000"/><rect x="520.5" y="1045.10" width="2.5" height="3.2" fill="#000"/>
<rect x="379.3" y="1120.10" width="141.3" height="8.6" fill="#ff0000"/><rect x="376.2" y="1122.80" width="3.2" height="3.2" fill="#ff0000"/><rect x="520.5" y="1122.80" width="2.5" height="3.2" fill="#ff0000"/>
<rect x="379.3" y="1198.00" width="141.3" height="8.6" fill="#0000ff"/><rect x="376.2" y="1200.70" width="3.2" height="3.2" fill="#0000ff"/><rect x="520.5" y="1200.70" width="2.5" height="3.2" fill="#0000ff"/>
<text x="536" y="987.2" textLength="193.6" lengthAdjust="spacingAndGlyphs">SPION</text>
<text x="536" y="1064.9" textLength="342.9" lengthAdjust="spacingAndGlyphs">SPION@CA</text>
<text x="536" y="1142.6" textLength="472" lengthAdjust="spacingAndGlyphs">SPION@CA_Epi</text>
<text x="536" y="1223.2" textLength="497.4" lengthAdjust="spacingAndGlyphs">SPION@CA_Dox</text>
</g>
<text x="939" y="1500.5" textLength="41.8" lengthAdjust="spacingAndGlyphs">T</text>
<text x="992" y="1498.8" style="font-weight:normal;font-size:60px" stroke="#000" stroke-width="1.6" textLength="17" lengthAdjust="spacingAndGlyphs">(</text>
<text x="1014" y="1477" style="font-weight:normal;font-size:36px" transform="translate(1014 0) scale(1.27 1) translate(-1014 0)">o</text>
<text x="1038" y="1500.5">C</text>
<text x="1086.5" y="1498.8" style="font-weight:normal;font-size:60px" stroke="#000" stroke-width="1.6" textLength="17" lengthAdjust="spacingAndGlyphs">)</text>
<g transform="translate(97 791) rotate(-90)">
<text x="-1.8" y="0" style="font-weight:normal" textLength="50.4" lengthAdjust="spacingAndGlyphs">%</text>
<text x="68.1" y="0" textLength="159.6" lengthAdjust="spacingAndGlyphs">mass</text>
</g>
</svg>
</body></html>
